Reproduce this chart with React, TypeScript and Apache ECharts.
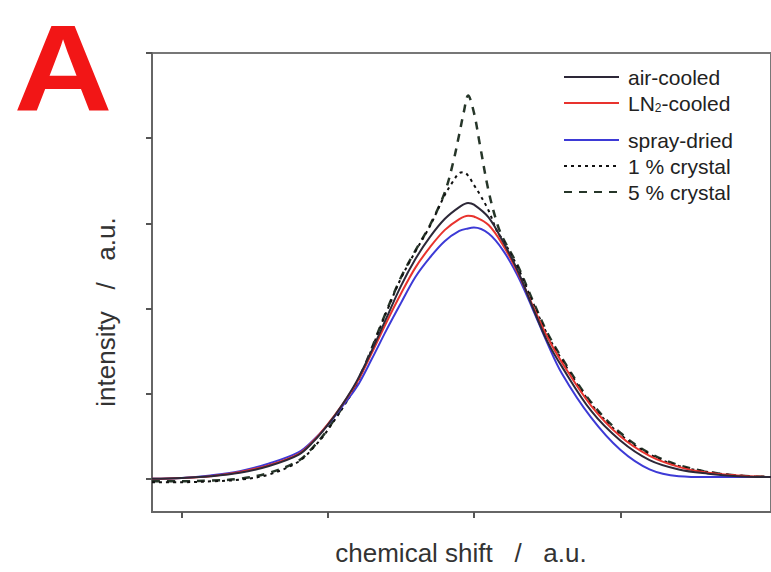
import React, { useEffect, useRef } from "react";
import * as echarts from "echarts";

// chemical shift positions (a.u.) for the amorphous samples
const shiftGrid = [0.8, 1.0, 1.2, 1.4, 1.6, 1.8, 1.9, 2.0, 2.1, 2.2, 2.3, 2.4, 2.5, 2.6, 2.7, 2.8, 2.9, 2.96, 3.0, 3.1, 3.2, 3.3, 3.4, 3.5, 3.6, 3.8, 4.0, 4.2, 4.4, 4.6, 4.8, 5.03];
const airCooled = [0.0, 0.01, 0.03, 0.07, 0.15, 0.28, 0.43, 0.63, 0.87, 1.15, 1.5, 1.88, 2.26, 2.58, 2.84, 3.05, 3.19, 3.24, 3.22, 3.07, 2.78, 2.44, 2.02, 1.62, 1.32, 0.8, 0.45, 0.22, 0.11, 0.06, 0.03, 0.02];
const ln2Cooled = [0.0, 0.01, 0.03, 0.08, 0.16, 0.29, 0.44, 0.64, 0.87, 1.13, 1.47, 1.83, 2.17, 2.48, 2.72, 2.92, 3.05, 3.09, 3.08, 2.98, 2.74, 2.42, 2.04, 1.67, 1.37, 0.86, 0.5, 0.27, 0.14, 0.07, 0.04, 0.02];
const sprayDried = [0.0, 0.01, 0.04, 0.09, 0.18, 0.31, 0.45, 0.63, 0.85, 1.08, 1.4, 1.74, 2.06, 2.37, 2.6, 2.79, 2.91, 2.94, 2.95, 2.88, 2.68, 2.38, 2.0, 1.6, 1.24, 0.72, 0.34, 0.11, 0.03, 0.02, 0.02, 0.02];

// chemical shift positions (a.u.) for the crystal-containing samples
const crystalShift = [0.8, 1.0, 1.2, 1.4, 1.6, 1.8, 1.9, 2.0, 2.2, 2.4, 2.5, 2.6, 2.7, 2.8, 2.86, 2.9, 2.93, 2.96, 3.0, 3.04, 3.1, 3.16, 3.2, 3.3, 3.4, 3.5, 3.6, 3.8, 4.0, 4.2, 4.4, 4.6, 4.8, 5.03];
const crystal1 = [-0.04, -0.04, -0.03, -0.01, 0.05, 0.2, 0.36, 0.57, 1.12, 1.95, 2.35, 2.67, 2.97, 3.33, 3.5, 3.59, 3.6, 3.56, 3.45, 3.34, 3.15, 2.9, 2.8, 2.48, 2.08, 1.7, 1.4, 0.88, 0.52, 0.29, 0.15, 0.08, 0.04, 0.02];
const crystal5 = [-0.03, -0.03, -0.02, 0.0, 0.07, 0.21, 0.37, 0.58, 1.13, 1.96, 2.36, 2.68, 2.98, 3.36, 3.73, 4.05, 4.3, 4.5, 4.3, 3.93, 3.38, 2.99, 2.82, 2.5, 2.1, 1.72, 1.42, 0.9, 0.54, 0.3, 0.16, 0.08, 0.04, 0.02];

const xTicks = [1, 2, 3, 4];
const yTicks = [0, 1, 2, 3, 4, 5];

const seriesNames = ["air-cooled", "LN2-cooled", "spray-dried", "1 % crystal", "5 % crystal"];

const pairs = (xs: number[], ys: number[]) => xs.map((x, i) => [x, ys[i]]);

const FONT = '"Liberation Sans", Arial, Helvetica, sans-serif';

export default function App() {
  const ref = useRef<HTMLDivElement>(null);
  useEffect(() => {
    if (!ref.current) return;
    const chart = echarts.init(ref.current, null, { renderer: "svg" });
    const legendText = {
      fontSize: 21,
      lineHeight: 22,
      color: "#222",
      fontFamily: FONT,
      padding: [0, 0, 0, 4],
      rich: {
        t: { fontSize: 21, lineHeight: 22, color: "#222", fontFamily: FONT },
        s: { fontSize: 12, lineHeight: 22, color: "#222", fontFamily: FONT, verticalAlign: "bottom" },
      },
    };
    const fmt = (name: string) => (name === "LN2-cooled" ? "{t|LN}{s|2}{t|-cooled}" : name);
    const lineSeries = (name: string, data: number[][], color: string, type: any, width: number) => ({
      name,
      type: "line",
      data,
      symbol: "none",
      smooth: 0.35,
      lineStyle: { color, width, type },
      itemStyle: { color },
    });
    const legendBase = {
      orient: "vertical",
      left: 563,
      padding: 0,
      itemWidth: 55,
      itemHeight: 14,
      itemGap: 4,
      selectedMode: false,
      itemStyle: { opacity: 0 },
      textStyle: legendText,
      formatter: fmt,
    };
    chart.setOption({
      animation: false,
      backgroundColor: "#fff",
      grid: { left: 152, top: 53, right: -8, bottom: 60, show: true, borderColor: "#777", borderWidth: 2 },
      xAxis: {
        type: "value",
        min: 0.8,
        max: 5.03,
        axisLine: { show: true, onZero: false, lineStyle: { color: "#666", width: 2 } },
        axisTick: { show: true, customValues: xTicks, length: 6, lineStyle: { color: "#555", width: 2 } },
        axisLabel: { show: false },
        splitLine: { show: false },
      },
      yAxis: {
        type: "value",
        min: -0.39,
        max: 5,
        axisLine: { show: true, onZero: false, lineStyle: { color: "#666", width: 2 } },
        axisTick: { show: true, customValues: yTicks, length: 6, lineStyle: { color: "#555", width: 2 } },
        axisLabel: { show: false },
        splitLine: { show: false },
      },
      legend: [
        { ...legendBase, top: 66, data: [seriesNames[0], seriesNames[1]] },
        { ...legendBase, top: 129, data: [seriesNames[2], seriesNames[3], seriesNames[4]] },
      ],
      series: [
        lineSeries(seriesNames[4], pairs(crystalShift, crystal5), "#263629", [8, 7], 2.5),
        lineSeries(seriesNames[3], pairs(crystalShift, crystal1), "#111111", [3, 4], 2),
        lineSeries(seriesNames[2], pairs(shiftGrid, sprayDried), "#3d3ad6", "solid", 2),
        lineSeries(seriesNames[1], pairs(shiftGrid, ln2Cooled), "#e8332e", "solid", 2),
        lineSeries(seriesNames[0], pairs(shiftGrid, airCooled), "#2d2838", "solid", 2),
      ],
      graphic: [
        {
          type: "text",
          x: 63,
          y: 69,
          scaleX: 1.12,
          style: {
            text: "A",
            font: `bold 122px ${FONT}`,
            fill: "#f21616",
            align: "center",
            verticalAlign: "middle",
            textAlign: "center",
            textVerticalAlign: "middle",
          },
        },
        {
          type: "text",
          x: 461,
          y: 553,
          style: {
            text: "chemical shift   /   a.u.",
            font: `26px ${FONT}`,
            fill: "#333",
            align: "center",
            verticalAlign: "middle",
            textAlign: "center",
            textVerticalAlign: "middle",
          },
        },
        {
          type: "text",
          x: 106,
          y: 312,
          rotation: Math.PI / 2,
          style: {
            text: "intensity   /   a.u.",
            font: `26px ${FONT}`,
            fill: "#333",
            align: "center",
            verticalAlign: "middle",
            textAlign: "center",
            textVerticalAlign: "middle",
          },
        },
      ],
    });
    return () => chart.dispose();
  }, []);
  return (
    <div
      ref={ref}
      style={{ position: "fixed", left: 0, top: 0, width: 771, height: 572, background: "#fff" }}
    />
  );
}
